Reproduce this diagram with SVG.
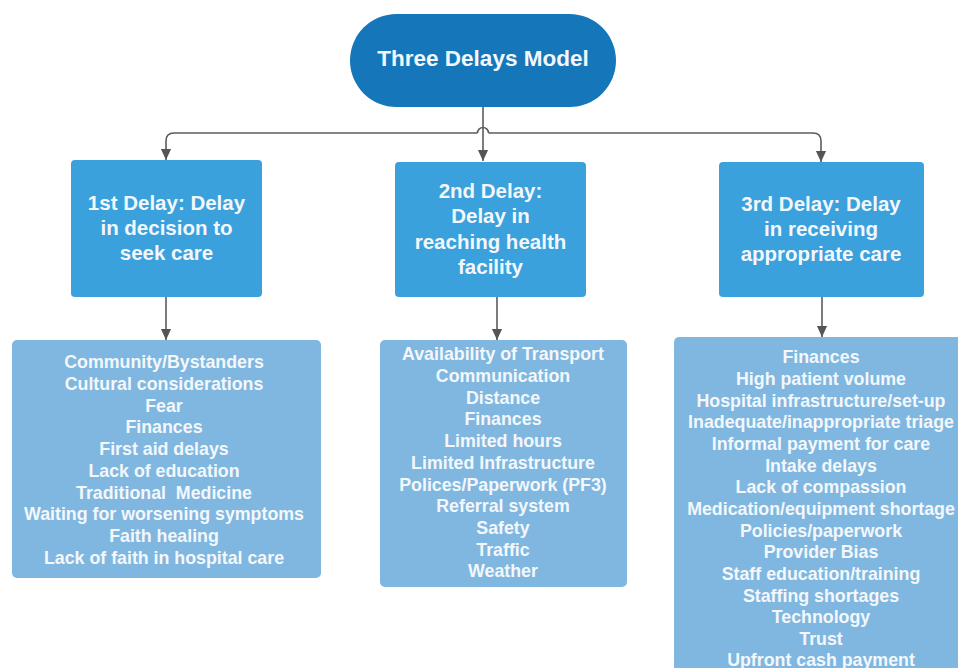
<svg xmlns="http://www.w3.org/2000/svg" width="958" height="668" viewBox="0 0 958 668">
  <style>
    .root { fill: #1577b9; }
    .delay { fill: #3aa1dc; }
    .list { fill: #80b7e0; }
    .conn { fill: none; stroke: #5c5c5c; stroke-width: 1.6; }
    text { font-family: "Liberation Sans", Arial, sans-serif; font-weight: bold; fill: #f3f7fb; text-anchor: middle; }
    .title { font-size: 22.5px; }
    .head { font-size: 20.5px; }
    .item { font-size: 17.8px; }
  </style>
  <defs>
    <marker id="tip" markerUnits="userSpaceOnUse" markerWidth="12" markerHeight="14" refX="13" refY="6" orient="auto" viewBox="0 0 14 12">
      <path d="M0 0 L13 6 L0 12 Z" fill="#555555"/>
    </marker>
  </defs>

  <!-- connectors -->
  <g id="connectors">
    <path class="conn" d="M483 107 V161" marker-end="url(#tip)"/>
    <path class="conn" d="M477.5 133 H174 Q166 133 166 141 V160" marker-end="url(#tip)"/>
    <path class="conn" d="M477.5 133 A5.5 5.5 0 0 1 488.5 133"/>
    <path class="conn" d="M488.5 133 H813 Q821 133 821 141 V162" marker-end="url(#tip)"/>
    <path class="conn" d="M166 297 V340" marker-end="url(#tip)"/>
    <path class="conn" d="M497 297 V340" marker-end="url(#tip)"/>
    <path class="conn" d="M822 297 V337" marker-end="url(#tip)"/>
  </g>

  <!-- root node -->
  <g id="three-delays-model">
    <rect class="root" x="350" y="14" width="266" height="93" rx="46.5"/>
    <text class="title" x="483" y="66">Three Delays Model</text>
  </g>

  <!-- first delay -->
  <g id="delay-1">
    <rect class="delay" x="71" y="160" width="191" height="137" rx="4"/>
    <text class="head" x="166.5" y="209.5">1st Delay: Delay</text>
    <text class="head" x="166.5" y="234.5">in decision to</text>
    <text class="head" x="166.5" y="259.5">seek care</text>
  </g>

  <!-- second delay -->
  <g id="delay-2">
    <rect class="delay" x="395" y="162" width="191" height="135" rx="4"/>
    <text class="head" x="490.5" y="197.5">2nd Delay:</text>
    <text class="head" x="490.5" y="223">Delay in</text>
    <text class="head" x="490.5" y="248.5">reaching health</text>
    <text class="head" x="490.5" y="274">facility</text>
  </g>

  <!-- third delay -->
  <g id="delay-3">
    <rect class="delay" x="719" y="162" width="205" height="135" rx="4"/>
    <text class="head" x="821" y="210.5">3rd Delay: Delay</text>
    <text class="head" x="821" y="235.5">in receiving</text>
    <text class="head" x="821" y="260.5">appropriate care</text>
  </g>

  <!-- first delay factors -->
  <g id="factors-1">
    <rect class="list" x="12" y="340" width="309" height="238" rx="5"/>
    <text class="item" x="164" y="368.3">Community/Bystanders</text>
    <text class="item" x="164" y="390">Cultural considerations</text>
    <text class="item" x="164" y="411.7">Fear</text>
    <text class="item" x="164" y="433.4">Finances</text>
    <text class="item" x="164" y="455.1">First aid delays</text>
    <text class="item" x="164" y="476.8">Lack of education</text>
    <text class="item" x="164" y="498.5" xml:space="preserve">Traditional  Medicine</text>
    <text class="item" x="164" y="520.2">Waiting for worsening symptoms</text>
    <text class="item" x="164" y="541.9">Faith healing</text>
    <text class="item" x="164" y="563.6">Lack of faith in hospital care</text>
  </g>

  <!-- second delay factors -->
  <g id="factors-2">
    <rect class="list" x="380" y="340" width="247" height="247" rx="5"/>
    <text class="item" x="503" y="360.3">Availability of Transport</text>
    <text class="item" x="503" y="382">Communication</text>
    <text class="item" x="503" y="403.7">Distance</text>
    <text class="item" x="503" y="425.4">Finances</text>
    <text class="item" x="503" y="447.1">Limited hours</text>
    <text class="item" x="503" y="468.8">Limited Infrastructure</text>
    <text class="item" x="503" y="490.5">Polices/Paperwork (PF3)</text>
    <text class="item" x="503" y="512.2">Referral system</text>
    <text class="item" x="503" y="533.9">Safety</text>
    <text class="item" x="503" y="555.6">Traffic</text>
    <text class="item" x="503" y="577.3">Weather</text>
  </g>

  <!-- third delay factors -->
  <g id="factors-3">
    <rect class="list" x="674" y="337" width="300" height="360" rx="5"/>
    <text class="item" x="821" y="363.3">Finances</text>
    <text class="item" x="821" y="385">High patient volume</text>
    <text class="item" x="821" y="406.6">Hospital infrastructure/set-up</text>
    <text class="item" x="821" y="428.3">Inadequate/inappropriate triage</text>
    <text class="item" x="821" y="449.9">Informal payment for care</text>
    <text class="item" x="821" y="471.6">Intake delays</text>
    <text class="item" x="821" y="493.2">Lack of compassion</text>
    <text class="item" x="821" y="514.9">Medication/equipment shortage</text>
    <text class="item" x="821" y="536.5">Policies/paperwork</text>
    <text class="item" x="821" y="558.2">Provider Bias</text>
    <text class="item" x="821" y="579.8">Staff education/training</text>
    <text class="item" x="821" y="601.5">Staffing shortages</text>
    <text class="item" x="821" y="623.1">Technology</text>
    <text class="item" x="821" y="644.8">Trust</text>
    <text class="item" x="821" y="666.4">Upfront cash payment</text>
  </g>
</svg>
